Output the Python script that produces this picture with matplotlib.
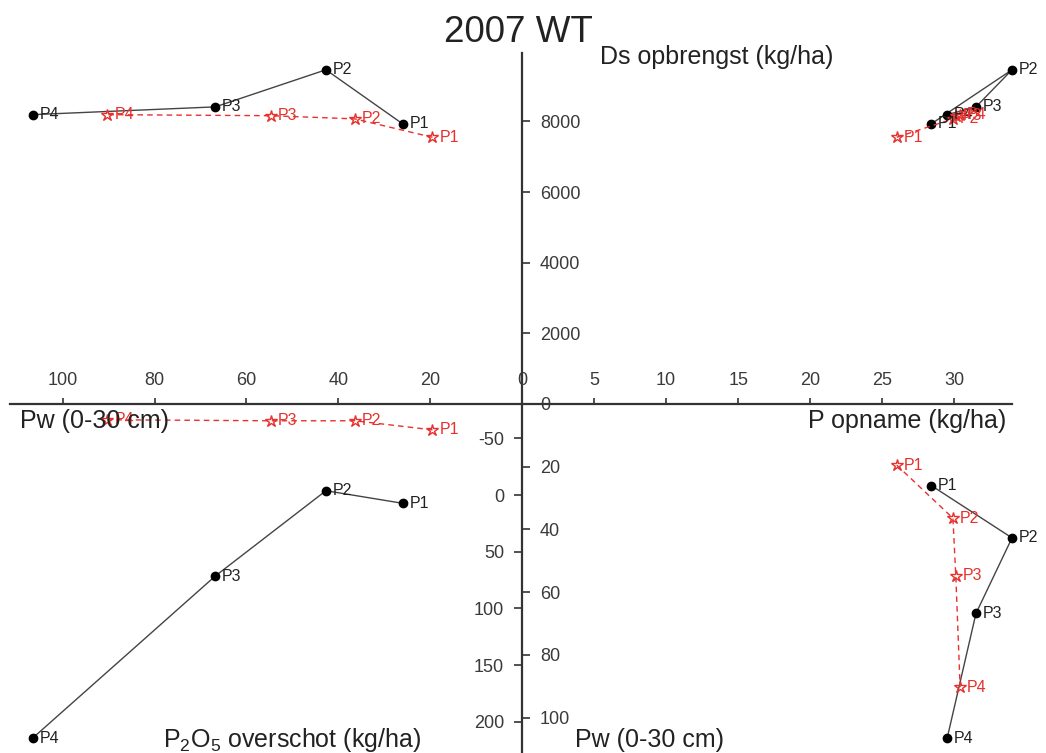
import matplotlib.pyplot as plt

plt.rcParams['font.family'] = ['Liberation Sans', 'DejaVu Sans']
plt.rcParams['mathtext.default'] = 'regular'
plt.rcParams['axes.unicode_minus'] = False

punten = ['P1', 'P2', 'P3', 'P4']

# zwart = gemeten, rood = berekend
pw_zwart = [26.0, 42.7, 66.8, 106.6]
pw_rood = [19.5, 36.4, 54.7, 90.3]
ds_zwart = [7930, 9460, 8410, 8190]
ds_rood = [7550, 8070, 8160, 8190]
popn_zwart = [28.4, 34.0, 31.5, 29.5]
popn_rood = [26.0, 29.9, 30.1, 30.4]
p2o5_zwart = [7.3, -3.8, 71.5, 214.6]
p2o5_rood = [-57.5, -65.5, -65.5, -66.4]

ticks_pw_h = [0, 20, 40, 60, 80, 100]
ticks_ds = [0, 2000, 4000, 6000, 8000]
ticks_popn = [5, 10, 15, 20, 25, 30]
ticks_p2o5 = [-50, 0, 50, 100, 150, 200]
ticks_pw_v = [20, 40, 60, 80, 100]

W, H = 1046, 753
OX, OY = 522, 404
LEFT, RIGHT, TOP, BOTTOM = 10, 1012, 53, 753
AS = '#333333'
ROOD = '#e8302c'


def rect(x0, y0, x1, y1):
    return [x0 / W, 1 - y1 / H, (x1 - x0) / W, (y1 - y0) / H]


def kaal(ax):
    ax.set_facecolor('none')
    for s in ax.spines.values():
        s.set_visible(False)
    ax.tick_params(which='both', left=False, right=False, top=False, bottom=False,
                   labelleft=False, labelright=False, labeltop=False, labelbottom=False)


def reeks(ax, x, y, xr, yr):
    ax.plot(x, y, '-o', color='#444444', lw=1, ms=6, mfc='k', mec='k', clip_on=False, zorder=3)
    ax.plot(xr, yr, '--*', color=ROOD, lw=1, dashes=(4, 3), ms=9,
            mfc='none', mec=ROOD, mew=1, clip_on=False, zorder=3)
    for xi, yi, p in zip(x, y, punten):
        ax.annotate(p, (xi, yi), xytext=(5, 0), textcoords='offset points', va='center',
                    fontsize=11.5, color='#222222', annotation_clip=False)
    for xi, yi, p in zip(xr, yr, punten):
        ax.annotate(p, (xi, yi), xytext=(5, 0), textcoords='offset points', va='center',
                    fontsize=11.5, color=ROOD, annotation_clip=False)


fig = plt.figure(figsize=(W / 100, H / 100), dpi=100)

ax_tl = fig.add_axes(rect(LEFT, TOP, OX, OY))
ax_tr = fig.add_axes(rect(OX, TOP, RIGHT, OY))
ax_bl = fig.add_axes(rect(LEFT, OY, OX, BOTTOM))
ax_br = fig.add_axes(rect(OX, OY, RIGHT, BOTTOM))
for ax in (ax_tl, ax_tr, ax_bl, ax_br):
    kaal(ax)

pw_h_lim = (111.5, 0)
ds_lim = (0, 9935)
popn_lim = (0, 34.0)
pw_v_lim = (111.3, 0)
p2o5_lim = (227.6, -80.3)

ax_tl.set_xlim(pw_h_lim)
ax_tl.set_ylim(ds_lim)
ax_tr.set_xlim(popn_lim)
ax_tr.set_ylim(ds_lim)
ax_bl.set_xlim(pw_h_lim)
ax_bl.set_ylim(p2o5_lim)
ax_br.set_xlim(popn_lim)
ax_br.set_ylim(pw_v_lim)

reeks(ax_tl, pw_zwart, ds_zwart, pw_rood, ds_rood)
reeks(ax_tr, popn_zwart, ds_zwart, popn_rood, ds_rood)
reeks(ax_bl, pw_zwart, p2o5_zwart, pw_rood, p2o5_rood)
reeks(ax_br, popn_zwart, pw_zwart, popn_rood, pw_rood)

# assenkruis
for ax, kant in ((ax_tl, 'right'), (ax_bl, 'right'), (ax_bl, 'top'), (ax_br, 'top')):
    ax.spines[kant].set_visible(True)
    ax.spines[kant].set_color(AS)
    ax.spines[kant].set_linewidth(1.6)

tick_kw = dict(direction='out', colors=AS, labelcolor='#3a3a3a', labelsize=13, width=1.2)
ax_tl.set_yticks(ticks_ds)
ax_tl.tick_params(axis='y', right=True, labelright=True, length=6, pad=7, **tick_kw)
ax_bl.set_xticks(ticks_pw_h)
ax_bl.tick_params(axis='x', top=True, labeltop=True, length=4, pad=7, **tick_kw)
ax_br.set_xticks(ticks_popn)
ax_br.tick_params(axis='x', top=True, labeltop=True, length=4, pad=7, **tick_kw)

# schaal Pw rechtsonder en P2O5 linksonder
ax_pwv = fig.add_axes(rect(LEFT, OY, OX, BOTTOM))
kaal(ax_pwv)
ax_pwv.set_ylim(pw_v_lim)
ax_pwv.set_yticks(ticks_pw_v)
ax_pwv.tick_params(axis='y', right=True, labelright=True, length=6, pad=7, **tick_kw)

ax_p2 = fig.add_axes(rect(OX, OY, RIGHT, BOTTOM))
kaal(ax_p2)
ax_p2.set_ylim(p2o5_lim)
ax_p2.set_yticks(ticks_p2o5)
ax_p2.tick_params(axis='y', left=True, labelleft=True, length=6, pad=7, **tick_kw)

lab_kw = dict(fontsize=18, color='#222222', va='center')
ax_tr.text(0.159, 0.989, 'Ds opbrengst (kg/ha)', transform=ax_tr.transAxes, ha='left', **lab_kw)
ax_br.text(0.988, 0.951, 'P opname (kg/ha)', transform=ax_br.transAxes, ha='right', **lab_kw)
ax_bl.text(0.0195, 0.951, 'Pw (0-30 cm)', transform=ax_bl.transAxes, ha='left', **lab_kw)
ax_bl.text(0.299, 0.037, 'P$_2$O$_5$ overschot (kg/ha)', transform=ax_bl.transAxes, ha='left', **lab_kw)
ax_br.text(0.108, 0.037, 'Pw (0-30 cm)', transform=ax_br.transAxes, ha='left', **lab_kw)

fig.text(518 / W, 1 - 32 / H, '2007 WT', ha='center', va='center', fontsize=26.5, color='#222222')

fig.savefig('out.png', dpi=100)
